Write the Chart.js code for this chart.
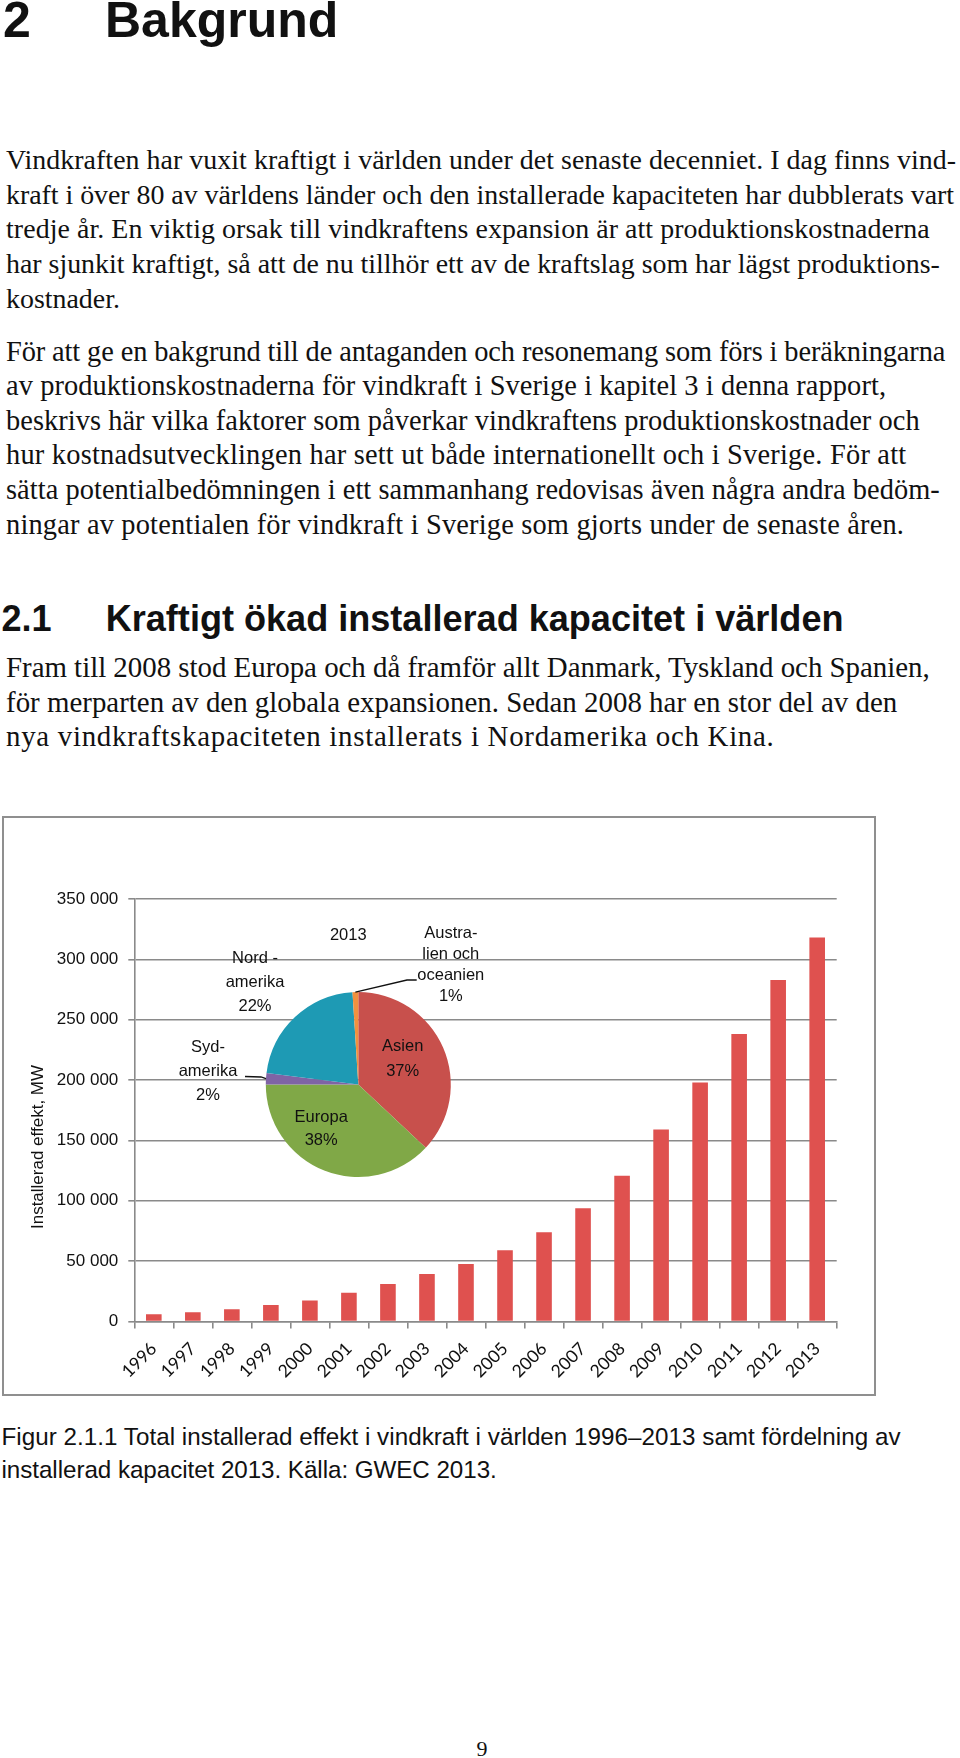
<!DOCTYPE html>
<html>
<head>
<meta charset="utf-8">
<script src="https://cdn.jsdelivr.net/npm/chart.js@4.4.1/dist/chart.umd.min.js"></script>
<style>
html,body{margin:0;padding:0;background:#fff;}
body{width:960px;height:1758px;position:relative;overflow:hidden;}
.t{position:absolute;white-space:nowrap;color:#111;}
.h1{font-family:"Liberation Sans",Arial,sans-serif;font-weight:bold;font-size:50px;line-height:55.85px;top:-7.25px;}
.h2{font-family:"Liberation Sans",Arial,sans-serif;font-weight:bold;font-size:36.1px;line-height:40.3px;top:599.3px;}
.p{position:absolute;left:6px;font-family:"Liberation Serif","Times New Roman",serif;line-height:34.6px;color:#111;white-space:nowrap;}
.cap{position:absolute;left:1.5px;font-family:"Liberation Sans",Arial,sans-serif;font-size:24.2px;line-height:33px;color:#111;white-space:nowrap;}
.pn{position:absolute;left:462px;width:40px;text-align:center;top:1736.9px;font-family:"Liberation Serif","Times New Roman",serif;font-size:22px;line-height:24.4px;color:#111;}
#box{position:absolute;left:2px;top:816px;width:874px;height:580px;border:2px solid #8f8f8f;box-sizing:border-box;background:#fff;}
#box canvas{position:absolute;left:0;top:0;}
</style>
</head>
<body>
<div class="t h1" style="left:3px;">2</div>
<div class="t h1" style="left:105px;">Bakgrund</div>

<div class="p" style="top:143.2px;font-size:27.9px;">
<div data-r="956"><span>Vindkraften har vuxit kraftigt i världen under det senaste decenniet. I dag finns vind-</span></div>
<div data-r="954"><span>kraft i över 80 av världens länder och den installerade kapaciteten har dubblerats vart</span></div>
<div data-r="929.7"><span>tredje år. En viktig orsak till vindkraftens expansion är att produktionskostnaderna</span></div>
<div data-r="939.8"><span>har sjunkit kraftigt, så att de nu tillhör ett av de kraftslag som har lägst produktions-</span></div>
<div><span>kostnader.</span></div>
</div>

<div class="p" style="top:334.7px;font-size:28.4px;">
<div data-r="945.4"><span>För att ge en bakgrund till de antaganden och resonemang som förs i beräkningarna</span></div>
<div data-r="886"><span>av produktionskostnaderna för vindkraft i Sverige i kapitel 3 i denna rapport,</span></div>
<div data-r="919.6"><span>beskrivs här vilka faktorer som påverkar vindkraftens produktionskostnader och</span></div>
<div data-r="906.2"><span>hur kostnadsutvecklingen har sett ut både internationellt och i Sverige. För att</span></div>
<div data-r="939.8"><span>sätta potentialbedömningen i ett sammanhang redovisas även några andra bedöm-</span></div>
<div data-r="903.9"><span>ningar av potentialen för vindkraft i Sverige som gjorts under de senaste åren.</span></div>
</div>

<div class="t h2" style="left:1.5px;">2.1</div>
<div class="t h2" style="left:105.7px;">Kraftigt ökad installerad kapacitet i världen</div>

<div class="p" style="top:650px;font-size:28.9px;">
<div data-r="929.7"><span>Fram till 2008 stod Europa och då framför allt Danmark, Tyskland och Spanien,</span></div>
<div data-r="897.2"><span>för merparten av den globala expansionen. Sedan 2008 har en stor del av den</span></div>
<div data-r="773.8"><span>nya vindkraftskapaciteten installerats i Nordamerika och Kina.</span></div>
</div>

<div id="box">
  <canvas id="bar" width="870" height="576"></canvas>
  <canvas id="pie" width="870" height="576"></canvas>
</div>

<div class="cap" style="top:1420px;">
<div data-r="900.5"><span>Figur 2.1.1 Total installerad effekt i vindkraft i världen 1996–2013 samt fördelning av</span></div>
<div data-r="496.8"><span>installerad kapacitet 2013. Källa: GWEC 2013.</span></div>
</div>

<div class="pn">9</div>

<script>
// ---- data ----
const years = ['1996','1997','1998','1999','2000','2001','2002','2003','2004','2005','2006','2007','2008','2009','2010','2011','2012','2013'];
const capacityMW = [6100, 7600, 10200, 13600, 17400, 23900, 31100, 39400, 47600, 59100, 74000, 93900, 120700, 159100, 198000, 238100, 283000, 318100];
const yTickValues = [0, 50000, 100000, 150000, 200000, 250000, 300000, 350000];
const yAxisTitle = 'Installerad effekt, MW';
const pieYear = '2013';
const regions = ['Asien', 'Europa', 'Sydamerika', 'Nordamerika', 'Australien och oceanien'];
const shares = [37, 38, 2, 22, 1];
const regionLabelLines = [['Asien'], ['Europa'], ['Syd-', 'amerika'], ['Nord -', 'amerika'], ['Austra-', 'lien och', 'oceanien']];

// ---- styles ----
const barColor = '#DF514F';
const pieColors = ['#C8504C', '#80A847', '#7F63A5', '#1E9AB4', '#F1913F'];
const gridColor = '#8a8a8a';
const textColor = '#111';
const sansFont = '"Liberation Sans", Arial, sans-serif';

// label placement relative to pie centre (px): [x, firstLineY, lineHeight]
const pieLabelPlace = [[44.4, -37.8, 25], [-37.1, 33.2, 23], [-150.3, -37.2, 24.3], [-103.3, -126.5, 24], [92.5, -151.5, 21.2]];
const yearPlace = [-10, -149.5];
// leader lines (relative to centre) for selected slices: index -> start points
const leaders = {2: [[-113.3, -8], [-97.3, -7.5]], 4: [[58.4, -104.5], [48.7, -104.5]]};

function fmtThousands(v) {
  return String(v).replace(/\B(?=(\d{3})+(?!\d))/g, ' ');
}

// match each text line's right end to the reference by a small letter-spacing tweak
function fitLines() {
  document.querySelectorAll('[data-r]').forEach((d) => {
    const s = d.firstElementChild;
    s.style.letterSpacing = '0px';
    const r = s.getBoundingClientRect().right;
    const n = s.textContent.length;
    if (n > 1) s.style.letterSpacing = ((+d.dataset.r - r) / (n - 1)) + 'px';
  });
}
fitLines();
if (document.fonts && document.fonts.ready) document.fonts.ready.then(fitLines);

const yTitlePlugin = {
  id: 'yTitle',
  afterDraw(chart) {
    const ctx = chart.ctx;
    ctx.save();
    ctx.translate(34, 329);
    ctx.rotate(-Math.PI / 2);
    ctx.font = '17px ' + sansFont;
    ctx.fillStyle = textColor;
    ctx.textAlign = 'center';
    ctx.textBaseline = 'middle';
    ctx.fillText(yAxisTitle, 0, 0);
    ctx.restore();
  }
};

const target = {left: 130.3, top: 81, right: 832.7, bottom: 503.5};

const barChart = new Chart(document.getElementById('bar'), {
  type: 'bar',
  data: {
    labels: years,
    datasets: [{data: capacityMW, backgroundColor: barColor, borderWidth: 0, barPercentage: 0.8, categoryPercentage: 0.5}]
  },
  options: {
    responsive: false,
    animation: false,
    devicePixelRatio: 1,
    layout: {padding: {left: 10.3, right: 37.3, top: 81, bottom: 0}},
    plugins: {legend: {display: false}, tooltip: {enabled: false}},
    scales: {
      y: {
        min: 0, max: 350000,
        afterBuildTicks: (s) => { s.ticks = yTickValues.map(v => ({value: v})); },
        ticks: {callback: (v) => fmtThousands(v), color: textColor, font: {family: sansFont, size: 17}, padding: 10},
        grid: {color: gridColor, lineWidth: 1.6, tickLength: 6, drawTicks: true},
        border: {color: gridColor, width: 1.6},
        afterFit: (s) => { s.width = 120; }
      },
      x: {
        grid: {offset: true, drawOnChartArea: false, drawTicks: true, tickLength: 7, color: gridColor, lineWidth: 1.6},
        border: {color: gridColor, width: 1.6},
        ticks: {minRotation: 45, maxRotation: 45, autoSkip: false, color: textColor, font: {family: 'Lato, "Open Sans", sans-serif', size: 17.5}, padding: 10},
        afterFit: (s) => { s.height = 72.5; }
      }
    }
  },
  plugins: [yTitlePlugin]
});

// calibrate plot area to the reference
for (let k = 0; k < 3; k++) {
  const ca = barChart.chartArea;
  const p = barChart.options.layout.padding;
  p.left += target.left - ca.left;
  p.top += target.top - ca.top;
  p.right -= target.right - ca.right;
  p.bottom -= target.bottom - ca.bottom;
  barChart.update('none');
}

const pieLabelPlugin = {
  id: 'pieLabels',
  afterDraw(chart) {
    const ctx = chart.ctx;
    const meta = chart.getDatasetMeta(0);
    const a0 = meta.data[0];
    const cx = a0.x, cy = a0.y;
    ctx.save();
    ctx.fillStyle = textColor;
    ctx.font = '16.5px ' + sansFont;
    ctx.textAlign = 'center';
    ctx.textBaseline = 'middle';
    ctx.fillText(pieYear, cx + yearPlace[0], cy + yearPlace[1]);
    regions.forEach((r, i) => {
      const lines = regionLabelLines[i].concat([shares[i] + '%']);
      const pl = pieLabelPlace[i];
      lines.forEach((ln, j) => ctx.fillText(ln, cx + pl[0], cy + pl[1] + j * pl[2]));
    });
    ctx.strokeStyle = '#111';
    ctx.lineWidth = 1.3;
    Object.keys(leaders).forEach((key) => {
      const arc = meta.data[+key];
      const mid = (arc.startAngle + arc.endAngle) / 2;
      const ex = cx + Math.cos(mid) * arc.outerRadius;
      const ey = cy + Math.sin(mid) * arc.outerRadius;
      const pts = leaders[key];
      ctx.beginPath();
      ctx.moveTo(cx + pts[0][0], cy + pts[0][1]);
      for (let j = 1; j < pts.length; j++) ctx.lineTo(cx + pts[j][0], cy + pts[j][1]);
      ctx.lineTo(ex, ey);
      ctx.stroke();
    });
    ctx.restore();
  }
};

new Chart(document.getElementById('pie'), {
  type: 'pie',
  data: {labels: regions, datasets: [{data: shares, backgroundColor: pieColors, borderWidth: 0}]},
  options: {
    responsive: false,
    animation: false,
    devicePixelRatio: 1,
    layout: {padding: {left: 261.8, top: 174, right: 423.2, bottom: 217}},
    plugins: {legend: {display: false}, tooltip: {enabled: false}}
  },
  plugins: [pieLabelPlugin]
});
</script>
</body>
</html>
